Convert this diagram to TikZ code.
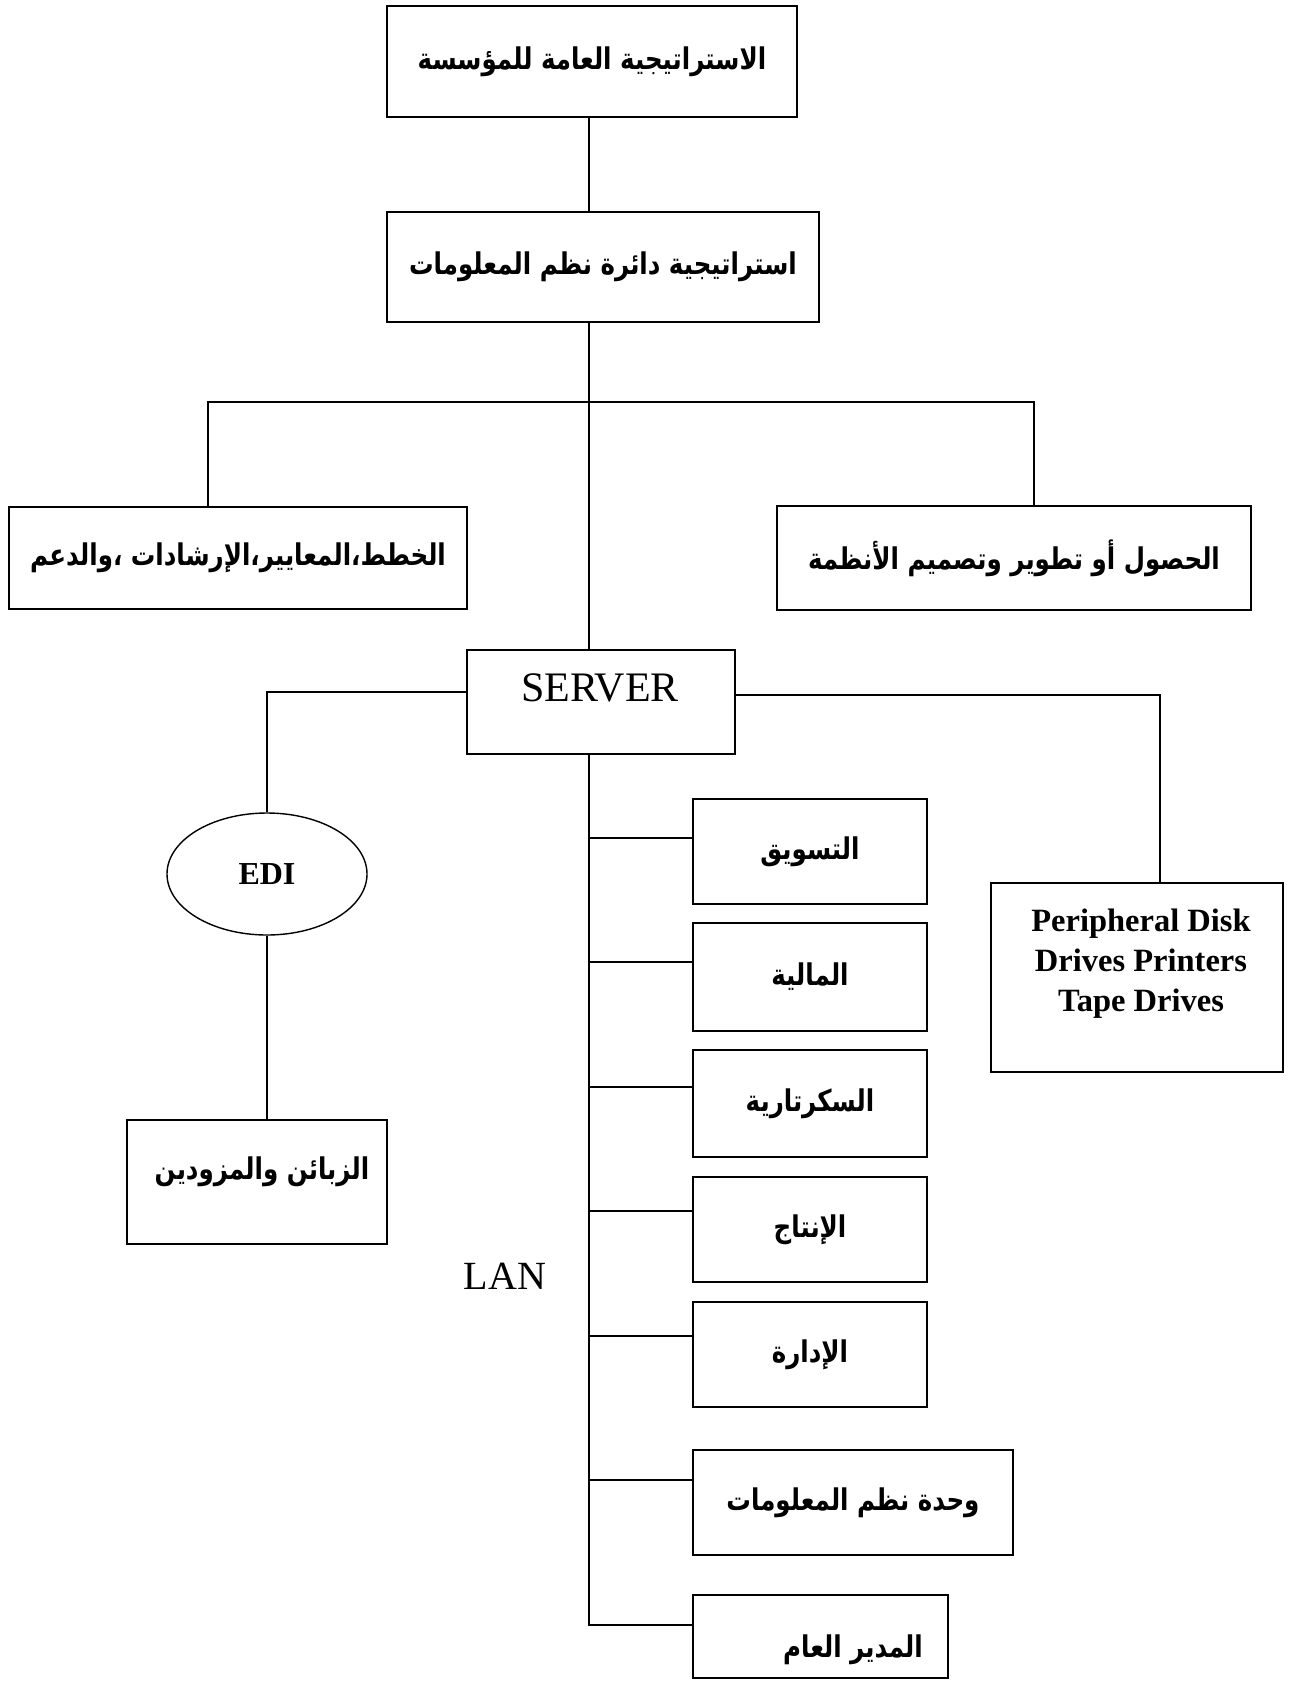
\documentclass[tikz,border=0pt]{standalone}
\usepackage{fontspec}
\setmainfont{Liberation Serif}
\newfontfamily\arabicfont[Script=Arabic]{DejaVu Sans}
\TeXXeTstate=1
\usetikzlibrary{shapes.geometric}
\newcommand{\AR}[1]{\scalebox{1}[1.22]{\arabicfont\bfseries\beginR #1\endR}}
\tikzset{
  box/.style={draw, line width=1.6pt, rectangle, inner sep=0pt, align=center,
              font=\fontsize{24.5}{30}\selectfont},
  conn/.style={line width=1.3pt},
  lat/.style={font=\fontsize{42}{48}\selectfont},
}
\begin{document}
\begin{tikzpicture}[x=1pt,y=-1pt]
\useasboundingbox[fill=white] (0,0) rectangle (1292,1684);

% top level
\node[box, minimum width=410pt, minimum height=111pt] (b1) at (592,61.5) {\AR{الاستراتيجية العامة للمؤسسة}};
\node[box, minimum width=432pt, minimum height=110pt] (b2) at (603,267) {\AR{استراتيجية دائرة نظم المعلومات}};
\node[box, minimum width=458pt, minimum height=102pt] (lc) at (238,558) {\AR{الخطط،المعايير،الإرشادات ،والدعم}};
\node[box, minimum width=474pt, minimum height=104pt] (rc) at (1014,558) {\AR{الحصول أو تطوير وتصميم الأنظمة}};

% server
\node[box, minimum width=268pt, minimum height=104pt] (srv) at (601,702) {};
\node[lat] (srvt) at (600,688) {SERVER};

% EDI branch
\node[draw, line width=1.4pt, ellipse, minimum width=200pt, minimum height=122pt, inner sep=0pt,
      font=\bfseries\fontsize{32}{36}\selectfont] (edi) at (267,874) {EDI};
\node[box, minimum width=260pt, minimum height=124pt] (cust) at (257,1182) {};
\node[font=\fontsize{24.5}{30}\selectfont] (custt) at (262,1172) {\AR{الزبائن والمزودين}};

% peripherals
\node[box, minimum width=292pt, minimum height=189pt] (per) at (1137,977.5) {};
\node[align=center, font=\bfseries\fontsize{32.5}{40}\selectfont] (pert) at (1141,964)
  {Peripheral Disk\\Drives Printers\\Tape Drives};

% departments
\node[box, minimum width=234pt, minimum height=105pt] (mk) at (810,851.5) {\AR{التسويق}};
\node[box, minimum width=234pt, minimum height=108pt] (fin) at (810,977) {\AR{المالية}};
\node[box, minimum width=234pt, minimum height=107pt] (sec) at (810,1103.5) {\AR{السكرتارية}};
\node[box, minimum width=234pt, minimum height=105pt] (prod) at (810,1229.5) {\AR{الإنتاج}};
\node[box, minimum width=234pt, minimum height=105pt] (adm) at (810,1354.5) {\AR{الإدارة}};
\node[box, minimum width=320pt, minimum height=105pt] (isu) at (853,1502.5) {\AR{وحدة نظم المعلومات}};
\node[box, minimum width=255pt, minimum height=83pt] (gm) at (820.5,1636.5) {};
\node[font=\fontsize{24.5}{30}\selectfont] (gmt) at (853,1650) {\AR{المدير العام}};

\node[font=\fontsize{40}{46}\selectfont] (lan) at (505,1276) {LAN};

% connectors
\coordinate (t0) at (589,402);
\coordinate (jl) at (208,402);
\coordinate (jr) at (1034,402);
\draw[conn] (t0 |- b1.south) -- (t0 |- b2.north);
\draw[conn] (t0 |- b2.south) -- (t0 |- srv.north);
\draw[conn] (jl |- lc.north) -- (jl) -- (jr) -- (jr |- rc.north);

\coordinate (el) at (267,692);
\draw[conn] (srv.west |- el) -- (el) -- (edi.north);
\draw[conn] (edi.south) -- (edi.south |- cust.north);

\coordinate (er) at (1160,695);
\draw[conn] (srv.east |- er) -- (er) -- (er |- per.north);

\coordinate (tb) at (589,1625);
\draw[conn] (tb |- srv.south) -- (tb) -- (tb -| gm.west);

\coordinate (j1) at (589,838);
\coordinate (j2) at (589,962);
\coordinate (j3) at (589,1087);
\coordinate (j4) at (589,1211);
\coordinate (j5) at (589,1336);
\coordinate (j6) at (589,1480);
\draw[conn] (j1) -- (j1 -| mk.west);
\draw[conn] (j2) -- (j2 -| fin.west);
\draw[conn] (j3) -- (j3 -| sec.west);
\draw[conn] (j4) -- (j4 -| prod.west);
\draw[conn] (j5) -- (j5 -| adm.west);
\draw[conn] (j6) -- (j6 -| isu.west);
\end{tikzpicture}
\end{document}
